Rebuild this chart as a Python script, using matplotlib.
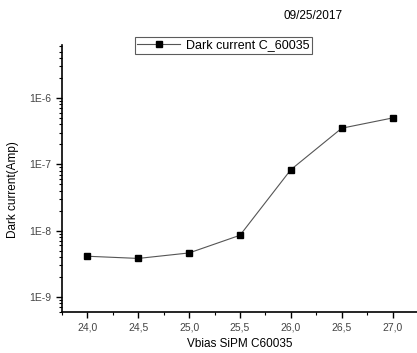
import math
import matplotlib
matplotlib.use("Agg")
import matplotlib.pyplot as plt
from matplotlib.ticker import FixedLocator, FuncFormatter, LogLocator, MultipleLocator

plt.rcParams['font.family'] = ['Liberation Sans', 'DejaVu Sans']

# data
vbias = [24.0, 24.5, 25.0, 25.5, 26.0, 26.5, 27.0]
dark_current = [4.1e-9, 3.8e-9, 4.6e-9, 8.5e-9, 8.3e-8, 3.5e-7, 5.0e-7]
x_ticks = [24.0, 24.5, 25.0, 25.5, 26.0, 26.5, 27.0]
y_ticks = [1e-9, 1e-8, 1e-7, 1e-6]

fig = plt.figure(figsize=(4.17, 3.53), dpi=100)
ax = fig.add_axes([0.1487, 0.116, 0.8513, 0.7565])

ax.plot(vbias, dark_current, color='#555555', lw=0.8, marker='s', ms=4.8,
        mfc='black', mec='black', label='Dark current C_60035')

ax.set_yscale('log')
ax.set_xlim(23.75, 27.24)
ax.set_ylim(5.9e-10, 6.3e-6)

ax.xaxis.set_major_locator(FixedLocator(x_ticks))
ax.xaxis.set_minor_locator(MultipleLocator(0.25))
ax.xaxis.set_major_formatter(FuncFormatter(lambda v, p: f"{v:.1f}".replace('.', ',')))
ax.yaxis.set_major_locator(FixedLocator(y_ticks))
ax.yaxis.set_minor_locator(LogLocator(base=10, subs=range(2, 10)))
ax.yaxis.set_major_formatter(FuncFormatter(lambda v, p: f"1E{int(round(math.log10(v)))}"))

for s in ['top', 'right']:
    ax.spines[s].set_visible(False)
for s in ['left', 'bottom']:
    ax.spines[s].set_linewidth(1.2)

ax.tick_params(which='major', direction='out', length=4, width=1, labelsize=7.5, colors='black')
ax.tick_params(which='minor', direction='out', length=2, width=0.8)
for lab in ax.get_xticklabels() + ax.get_yticklabels():
    lab.set_color('#444444')

ax.set_xlabel('Vbias SiPM C60035', fontsize=8.5, labelpad=4)
ax.set_ylabel('Dark current(Amp)', fontsize=8.5)
ax.yaxis.set_label_coords(-0.12, 0.46)

leg = ax.legend(loc='upper center', bbox_to_anchor=(0.455, 1.03), fontsize=9,
                frameon=True, fancybox=False, edgecolor='#333333',
                handlelength=3.4, borderpad=0.2, handletextpad=0.5, borderaxespad=0)
leg.get_frame().set_linewidth(0.8)

fig.text(0.75, 0.955, '09/25/2017', fontsize=8.5, ha='center', va='center')

fig.savefig('out.png', dpi=100)
